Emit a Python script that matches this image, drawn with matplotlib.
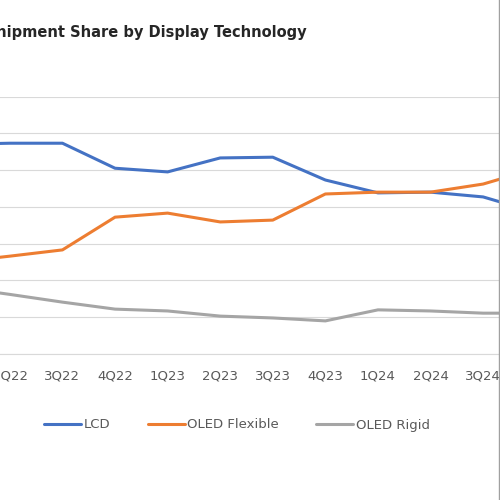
import matplotlib
matplotlib.use('Agg')
import matplotlib.pyplot as plt
from matplotlib.lines import Line2D

# quarterly shipment share (%)
quarters = ['1Q22', '2Q22', '3Q22', '4Q22', '1Q23', '2Q23', '3Q23',
            '4Q23', '1Q24', '2Q24', '3Q24', '4Q24']
lcd = [57.0, 57.3, 57.3, 50.5, 49.5, 53.3, 53.5, 47.3, 43.8, 44.0, 42.7, 38.5]
oled_flex = [25.0, 26.6, 28.3, 37.2, 38.3, 35.9, 36.4, 43.5, 44.0, 44.0, 46.2, 50.4]
oled_rigid = [18.2, 16.2, 14.1, 12.2, 11.7, 10.3, 9.8, 9.0, 12.0, 11.7, 11.1, 11.1]

series = [('LCD', lcd, '#4472C4'),
          ('OLED Flexible', oled_flex, '#ED7D31'),
          ('OLED Rigid', oled_rigid, '#A5A5A5')]

plt.rcParams['font.family'] = ['DejaVu Sans']
txt = '#595959'

fig = plt.figure(figsize=(5, 5), dpi=100)
# chart is cropped: plot area runs past the left and right edges of the picture
ax = fig.add_axes([-0.138, 0.292, 1.262, 0.515])

x = list(range(len(quarters)))
for name, vals, col in series:
    ax.plot(x, vals, color=col, lw=2.2, label=name, solid_capstyle='round')

ax.set_xlim(-0.5, len(quarters) - 0.5)
ax.set_ylim(0, 70)
ax.set_yticks(range(0, 71, 10))
ax.set_yticklabels([])
ax.grid(axis='y', color='#D9D9D9', lw=0.8)
ax.set_axisbelow(True)
ax.set_xticks(x)
ax.set_xticklabels(quarters)
ax.tick_params(axis='x', length=0, pad=11, labelsize=9.5, labelcolor=txt)
ax.tick_params(axis='y', length=0)
for s in ['top', 'left', 'right']:
    ax.spines[s].set_visible(False)
ax.spines['bottom'].set_color('#D9D9D9')

fig.text(0.614, 0.936, 'Smartphone Shipment Share by Display Technology',
         ha='right', va='center', fontsize=10.5, fontweight='bold', color='#262626')

fig.legend(loc='center', bbox_to_anchor=(0.474, 0.15), ncol=3, frameon=False,
           fontsize=9.5, labelcolor=txt, handlelength=2.8, handletextpad=0.2,
           columnspacing=2.8)

# chart border at the right edge
fig.add_artist(Line2D([0.997, 0.997], [0.0, 1.0], color='#A0A0A0', lw=1,
                      transform=fig.transFigure))

fig.savefig('out.png', dpi=100)
